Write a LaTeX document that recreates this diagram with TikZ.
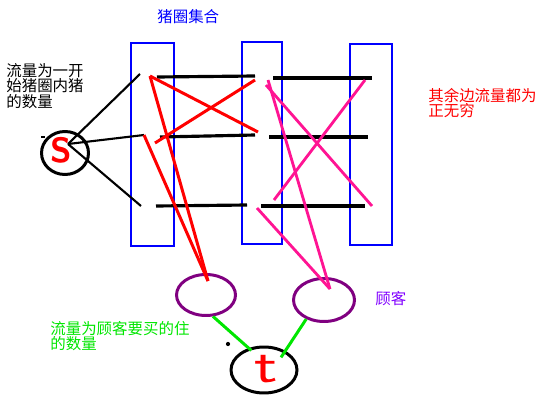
\documentclass[tikz,border=0pt]{standalone}
\usepackage{fontspec}
\usepackage{xcolor}
\usetikzlibrary{shapes.geometric}
\newfontfamily\cjk{Noto Sans CJK SC}
\definecolor{uPen}{HTML}{0000FF}
\definecolor{uRed}{HTML}{FF0000}
\definecolor{uPink}{HTML}{FF1493}
\definecolor{uCust}{HTML}{800080}
\definecolor{uCustTxt}{HTML}{8000FF}
\definecolor{uGreen}{HTML}{00E600}
\tikzset{
  pigpen/.style={draw=uPen, line width=0.6pt, inner sep=0pt},
  bar/.style={line width=1.8pt},
  feed/.style={line width=1.2pt},
  redln/.style={draw=uRed, line width=1.7pt},
  pinkln/.style={draw=uPink, line width=1.6pt},
  supply/.style={draw=uGreen, line width=1.7pt},
  src/.style={ellipse, draw, line width=1.7pt, inner sep=0pt},
  cust/.style={ellipse, draw=uCust, line width=1.7pt, inner sep=0pt},
  letter/.style={text=uRed, inner sep=0pt, font=\sffamily\bfseries},
  % chinese notes, set from their top-left corner
  lbl/.style={font=\cjk\fontsize{8.8}{8.8}\selectfont, align=left,
              inner sep=0pt, anchor=north west},
}

\begin{document}
\begin{tikzpicture}[x=0.02cm, y=-0.02cm]
\useasboundingbox (0,0) rectangle (550,408);

%% ── three pig-pen columns ─────────────────────────────────────────────────
\node[pigpen, minimum width=0.86cm, minimum height=4.06cm] (pen1) at (152.5,144.5) {};
\node[pigpen, minimum width=0.80cm, minimum height=4.04cm] (pen2) at (262,143) {};
\node[pigpen, minimum width=0.84cm, minimum height=4.02cm] (pen3) at (371,144.5) {};
\node[lbl, text=uPen] (title) at (157,9) {猪圈集合};

%% ── source, customers and sink ────────────────────────────────────────────
\node[src, minimum width=0.94cm, minimum height=0.86cm] (s) at (65,153) {};
\node[letter, font=\sffamily\bfseries\fontsize{20}{20}\selectfont] (slet) at (61,150) {S};
\node[cust, minimum width=1.18cm, minimum height=0.82cm] (c1) at (206,295) {};
\node[cust, minimum width=1.22cm, minimum height=0.86cm] (c2) at (324,300) {};
\node[src, minimum width=1.32cm, minimum height=0.92cm] (t) at (264,370) {};
\node[letter, font=\sffamily\fontsize{28}{28}\selectfont] (tlet) at (266,369)
  {\scalebox{1.4}[1]{t}};

%% ── s feeds the first column ──────────────────────────────────────────────
\coordinate (shub) at (68,144);
\coordinate (in1) at (140,74);
\coordinate (in2) at (144,135);
\coordinate (in3) at (141,206);
\draw[feed] (shub) -- (in1);
\draw[feed] (shub) -- (in2);
\draw[feed] (shub) -- (in3);

%% ── black bars, two per row ───────────────────────────────────────────────
\foreach \r/\xa/\ya/\xb/\yb/\xc/\yc/\xd/\yd in
  {1/157/77/255/76/273/78/372/78,
   2/160/137/255/135/269/137/368/137,
   3/156/206/247/205/261/206/365/206}{
  \coordinate (r\r a) at (\xa,\ya);
  \coordinate (r\r b) at (\xb,\yb);
  \coordinate (r\r c) at (\xc,\yc);
  \coordinate (r\r d) at (\xd,\yd);
  \draw[bar] (r\r a) -- (r\r b);
  \draw[bar] (r\r c) -- (r\r d);
}

%% ── red edges, first to second column and to customer 1 ───────────────────
\coordinate (ra) at (150,76);
\coordinate (rb) at (258,132);
\coordinate (rc) at (155,143);
\coordinate (rd) at (255,80);
\coordinate (c1hit) at (208,281);
\draw[redln] (ra) -- (rb);
\draw[redln] (rc) -- (rd);
\draw[redln] (ra) -- (c1hit);
\draw[redln] (in2) -- (c1hit);

%% ── pink edges, second to third column and to customer 2 ──────────────────
\coordinate (pa) at (268,80);
\coordinate (pb) at (266,85);
\coordinate (pc) at (372,206);
\coordinate (pd) at (365,80);
\coordinate (pe) at (274,200);
\coordinate (pf) at (257,208);
\coordinate (c2hit) at (330,289);
\draw[pinkln] (pb) -- (pc);
\draw[pinkln] (pd) -- (pe);
\draw[pinkln] (pa) -- (c2hit);
\draw[pinkln] (pf) -- (c2hit);

%% ── customers to sink ─────────────────────────────────────────────────────
\draw[supply, shorten >=-2pt] (c1.-72) -- (t.125);
\draw[supply, shorten >=-4.5pt] (c2.227) -- (t.42);

%% ── stray marks ───────────────────────────────────────────────────────────
\draw[line width=1pt] (41,137) -- (45,137);
\fill (228,344) circle (1.2pt);

%% ── notes ─────────────────────────────────────────────────────────────────
\node[lbl] (srcnote) at (6,63) {流量为一开\\始猪圈内猪\\的数量};
\node[lbl, text=uRed] (infnote) at (428,88) {其余边流量都为\\正无穷};
\node[lbl, text=uCustTxt] (custnote) at (375,291) {顾客};
\node[lbl, text=uGreen] (buynote) at (50,321) {流量为顾客要买的住\\的数量};

\end{tikzpicture}
\end{document}
